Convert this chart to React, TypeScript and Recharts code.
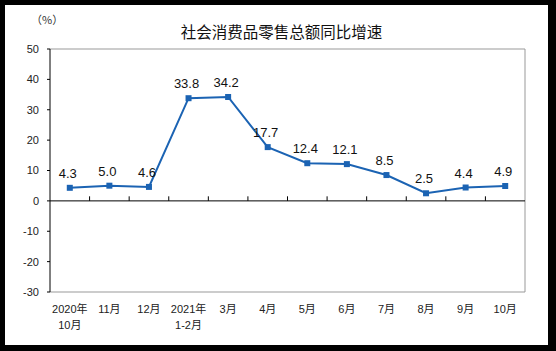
import { LineChart, Line, XAxis, YAxis, ReferenceLine, LabelList } from 'recharts';

const months = ['2020年\n10月', '11月', '12月', '2021年\n1-2月', '3月', '4月', '5月', '6月', '7月', '8月', '9月', '10月'];
const growth = [4.3, 5.0, 4.6, 33.8, 34.2, 17.7, 12.4, 12.1, 8.5, 2.5, 4.4, 4.9];
const yTicks = [-30, -20, -10, 0, 10, 20, 30, 40, 50];

const LINE_BLUE = '#1b63b3';
const FONT = '"Liberation Sans", Arial, "Noto Sans CJK SC", sans-serif';

const data = growth.map((value, i) => ({ pos: i + 0.5, month: months[i], value }));
const bandEdges = months.slice(1).map((_, i) => i + 1);

function MonthTick({ x, y, payload }: any) {
  const lines = months[Math.floor(payload.value)].split('\n');
  return (
    <text x={x} y={y} textAnchor="middle" fontSize={11} fill="#222" fontFamily={FONT}>
      {lines.map((line, i) => (
        <tspan key={i} x={x} dy={i === 0 ? 21 : 16}>
          {line}
        </tspan>
      ))}
    </text>
  );
}

function SquareDot({ cx, cy, index }: any) {
  return <rect key={index} x={cx - 3} y={cy - 3} width={6} height={6} fill={LINE_BLUE} />;
}

export default function App() {
  return (
    <div style={{ position: 'absolute', left: 0, top: 0, width: 556, height: 351, background: '#000' }}>
      <div style={{ position: 'absolute', left: 5, top: 5, width: 543, height: 340, background: '#fff' }} />
      <div
        style={{
          position: 'absolute',
          left: 0,
          top: 21,
          width: 563,
          textAlign: 'center',
          fontSize: 15.5,
          lineHeight: '20px',
          color: '#111',
          fontFamily: '"Noto Sans CJK SC", sans-serif',
        }}
      >
        社会消费品零售总额同比增速
      </div>
      <div
        style={{
          position: 'absolute',
          left: 31,
          top: 12,
          fontSize: 11,
          lineHeight: '14px',
          color: '#333',
          fontFamily: '"Noto Sans CJK SC", sans-serif',
        }}
      >
        （%）
      </div>
      <div style={{ position: 'absolute', left: 0, top: 0 }}>
        <LineChart width={556} height={351} data={data} margin={{ top: 49, right: 31, bottom: 19, left: 10 }}>
          <XAxis
            dataKey="pos"
            type="number"
            domain={[0, months.length]}
            ticks={data.map((d) => d.pos)}
            interval={0}
            tick={<MonthTick />}
            axisLine={false}
            tickLine={false}
            tickSize={0}
            tickMargin={0}
            height={40}
          />
          <YAxis
            domain={[-30, 50]}
            ticks={yTicks}
            interval={0}
            width={40}
            tickSize={3}
            tickMargin={8}
            axisLine={{ stroke: '#000' }}
            tickLine={{ stroke: '#000' }}
            tick={{ fontSize: 11, fill: '#222', fontFamily: FONT }}
          />
          <ReferenceLine y={50} stroke="#999" />
          <ReferenceLine y={-30} stroke="#999" />
          <ReferenceLine x={months.length} stroke="#999" />
          <ReferenceLine y={0} stroke="#000" />
          {bandEdges.map((edge) => (
            <ReferenceLine
              key={edge}
              segment={[
                { x: edge, y: 0 },
                { x: edge, y: 1.5 },
              ]}
              stroke="#000"
            />
          ))}
          <Line
            dataKey="value"
            stroke={LINE_BLUE}
            strokeWidth={2}
            dot={SquareDot}
            activeDot={false}
            isAnimationActive={false}
          >
            <LabelList
              dataKey="value"
              position="top"
              offset={10}
              dx={-2}
              formatter={(v: any) => Number(v).toFixed(1)}
              style={{ fontSize: 13, fill: '#111', fontFamily: FONT }}
            />
          </Line>
        </LineChart>
      </div>
    </div>
  );
}
